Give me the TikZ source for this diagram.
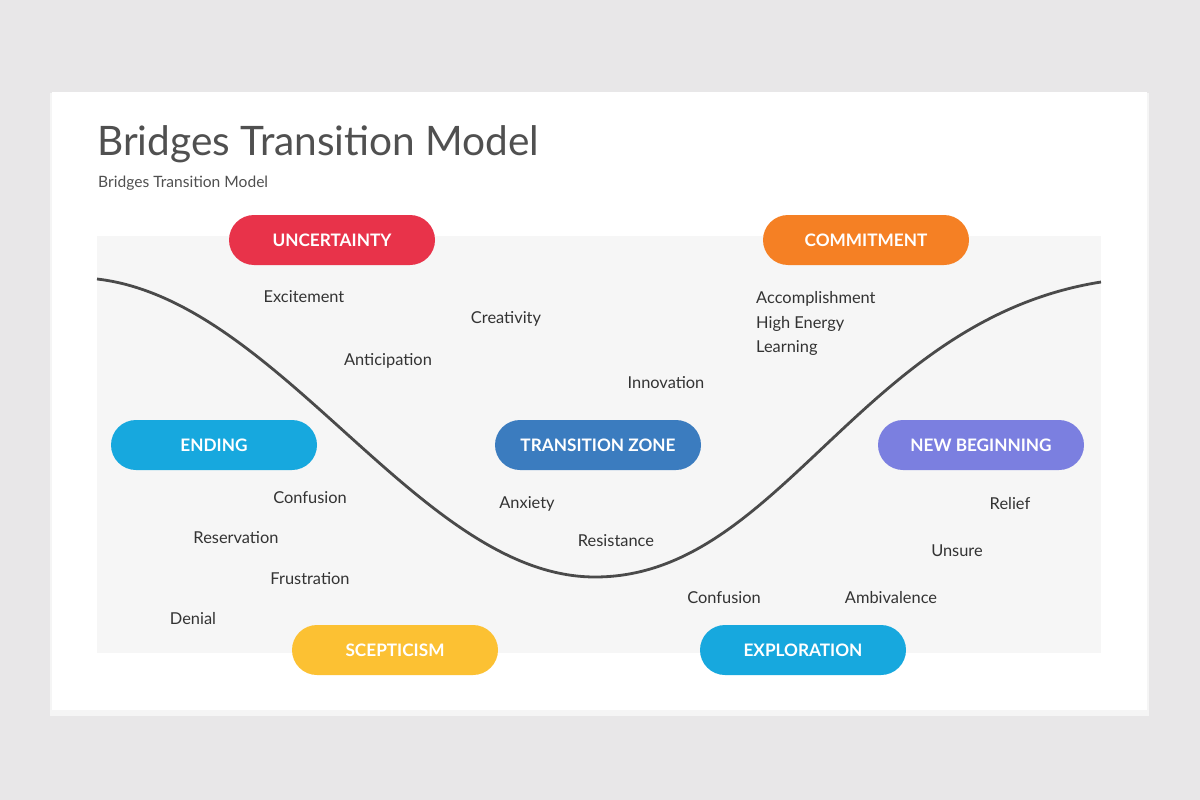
\documentclass[tikz,border=0pt]{standalone}
\usepackage{fontspec}
\setmainfont{Lato}
\usetikzlibrary{positioning}

\definecolor{pagebg}{HTML}{E8E7E8}
\definecolor{panelbg}{HTML}{F6F6F6}
\definecolor{titlec}{HTML}{505050}
\definecolor{wordc}{HTML}{333333}
\definecolor{curvec}{HTML}{4A4A4A}
\definecolor{redc}{HTML}{E8334A}
\definecolor{orangec}{HTML}{F58024}
\definecolor{cyanc}{HTML}{17A8DE}
\definecolor{bluec}{HTML}{3B7CBF}
\definecolor{violetc}{HTML}{7B7FE0}
\definecolor{yellowc}{HTML}{FCC133}

\tikzset{
  pill/.style={fill=#1, rounded corners=25pt, minimum width=206pt, minimum height=50pt,
    inner sep=0pt, text=white, font=\fontsize{17.2}{20}\selectfont\bfseries},
  word/.style={inner sep=0pt, text=wordc, font=\fontsize{16.4}{19}\selectfont},
}

\begin{document}
\begin{tikzpicture}[x=1pt,y=-1pt]
  \useasboundingbox (0,0) rectangle (1200,800);
  \fill[pagebg] (0,0) rectangle (1200,800);
  \fill[black!6] (51,94) rectangle (1148,714);
  \fill[black!4] (50,93) rectangle (1149,716);
  \fill[white] (52,92) rectangle (1147,710);
  \fill[panelbg] (97,236) rectangle (1101,653);

  \node[inner sep=0pt, anchor=base west, text=titlec, font=\fontsize{40.6}{48}\selectfont] (title) at (97,155) {Bridges Transition Model};
  \node[inner sep=0pt, anchor=base west, text=titlec, font=\fontsize{15.6}{18}\selectfont] (subtitle) at (98,187) {Bridges Transition Model};

  \draw[curvec, line width=2.8pt] (97,279) .. controls (280,300) and (420,577) .. (595,577)
    .. controls (780,577) and (860,320) .. (1101,282);

  \node[pill=redc] (uncert) at (332,240) {UNCERTAINTY};
  \node[pill=orangec] (commit) at (866,240) {COMMITMENT};
  \node[pill=cyanc] (ending) at (214,445) {ENDING};
  \node[pill=bluec] (zone) at (598,445) {TRANSITION ZONE};
  \node[pill=violetc] (newbeg) at (981,445) {NEW BEGINNING};
  \node[pill=yellowc] (scept) at (395,650) {SCEPTICISM};
  \node[pill=cyanc] (explor) at (803,650) {EXPLORATION};

  \node[word] (excite) at (304,297) {Excitement};
  \node[word] (creat) at (506,319) {Creativity};
  \node[word] (antic) at (388,361) {Anticipation};
  \node[word] (innov) at (666,383) {Innovation};
  \node[word, anchor=west] (accomp) at (756,299) {Accomplishment};
  \node[word, anchor=west] (energy) at (756,324) {High Energy};
  \node[word, anchor=west] (learn) at (756,348) {Learning};

  \node[word] (confl) at (310,498) {Confusion};
  \node[word] (reserv) at (236,538) {Reservation};
  \node[word] (frust) at (310,579) {Frustration};
  \node[word] (denial) at (193,619) {Denial};

  \node[word] (anxiety) at (527,504) {Anxiety};
  \node[word] (resist) at (616,541) {Resistance};
  \node[word] (confr) at (724,598) {Confusion};
  \node[word] (ambiv) at (891,598) {Ambivalence};
  \node[word] (unsure) at (957,551) {Unsure};
  \node[word] (relief) at (1010,504) {Relief};
\end{tikzpicture}
\end{document}
